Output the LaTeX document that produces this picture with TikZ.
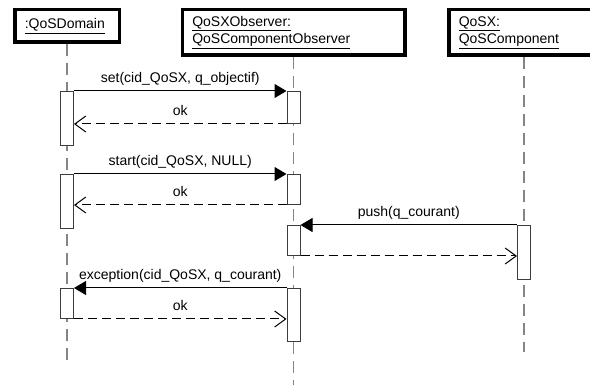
\documentclass[tikz,border=0pt]{standalone}
\usepackage{fontspec}
\setmainfont{Liberation Sans}
\usepackage{xcolor}
\usetikzlibrary{positioning,arrows.meta,backgrounds}
\definecolor{lifegrey}{HTML}{858585}
\definecolor{bargrey}{HTML}{3C3C3C}

\begin{document}
\begin{tikzpicture}[
    x=1pt, y=-1pt,
    every node/.style={font=\fontsize{14}{15.5}\selectfont},
    actor/.style={draw=black, line width=3.5pt, inner xsep=10pt, inner ysep=0pt, align=left},
    lifeline/.style={draw=lifegrey, line width=1.3pt, dash pattern=on 12pt off 7pt},
    bar/.style={draw=bargrey, fill=white, line width=1pt, minimum width=13pt, inner sep=0pt, anchor=north},
    call/.style={draw=black, line width=1pt, -{Triangle[length=12pt, width=14pt]}},
    reply/.style={draw=black, line width=1pt, dash pattern=on 9pt off 5pt, -{Straight Barb[length=11pt, width=16pt]}},
    msg/.style={midway, above, inner ysep=5pt, text depth=3pt}
  ]

  \useasboundingbox (0,0) rectangle (590,385);
  \clip (0,0) rectangle (590,385);

  \node[actor, minimum width=104.5pt, minimum height=32.5pt, text width=84.5pt] (dom) at (67,26)
    {\underline{:QoSDomain}};
  \node[actor, minimum width=222.5pt, minimum height=45.5pt, text width=202.5pt] (obs) at (293.5,32.5)
    {\underline{QoSXObserver:}\\[2pt]\underline{QoSComponentObserver}};
  \node[actor, minimum width=150.5pt, minimum height=45.5pt, text width=130.5pt] (comp) at (524,32.5)
    {\underline{QoSX:}\\[2pt]\underline{QoSComponent}};

  \coordinate (dom end)  at (67,363);
  \coordinate (obs end)  at (293.5,385);
  \coordinate (comp end) at (524,352);

  % lifelines run behind the headers and the activation bars
  \begin{scope}[on background layer]
    \foreach \who in {dom, obs, comp} {\draw[lifeline] (\who.south) -- (\who\space end);}
  \end{scope}

  \foreach \name/\x/\ytop/\h in {dom1/67/91/54, obs1/293.5/91/32, dom2/67/174/54, obs2/293.5/174/30,
      obs3/293.5/225/30, comp1/524/225/54, dom3/67/288/30, obs4/293.5/288/53}
    {\node[bar, minimum height=\h pt] (\name) at (\x,\ytop) {};}

  \draw[call] (dom1.north east) -- node[msg] {set(cid\_QoSX, q\_objectif)} (obs1.north west);
  \draw[reply] (obs1.south west) -- node[msg] {ok} (obs1.south west -| dom1.east);

  \draw[call] (dom2.north east) -- node[msg] {start(cid\_QoSX, NULL)} (obs2.north west);
  \draw[reply] (obs2.south west) -- node[msg] {ok} (obs2.south west -| dom2.east);

  \draw[call] (comp1.north west) -- node[msg] {push(q\_courant)} (obs3.north east);
  \draw[reply] (obs3.south east) -- (obs3.south east -| comp1.west);

  \draw[call] (obs4.north west) -- node[msg] {exception(cid\_QoSX, q\_courant)} (dom3.north east);
  \draw[reply] (dom3.south east) -- node[msg] {ok} (dom3.south east -| obs4.west);

\end{tikzpicture}
\end{document}
